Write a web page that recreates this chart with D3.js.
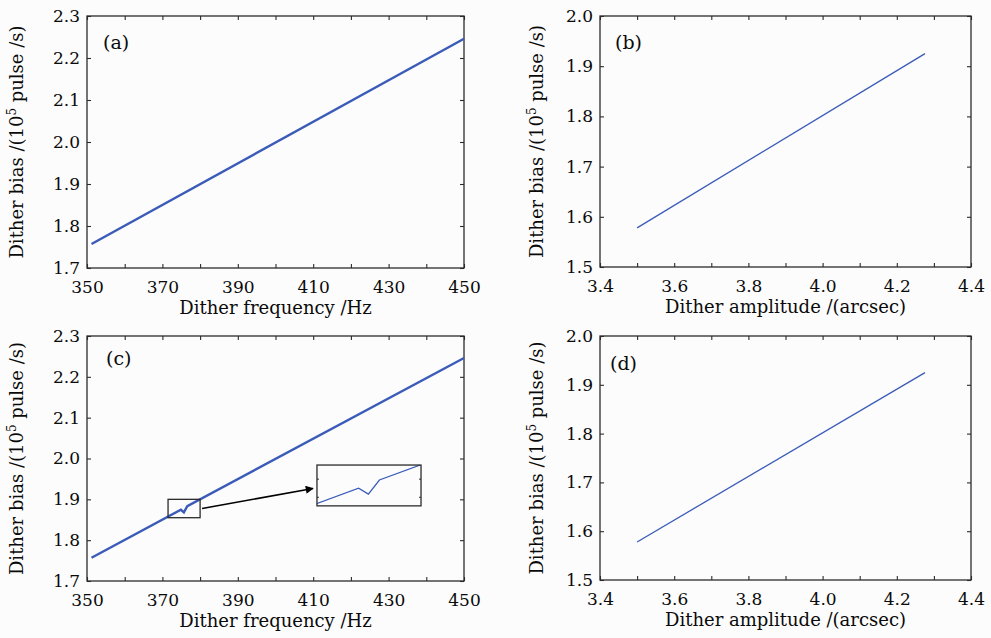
<!DOCTYPE html>
<html>
<head>
<meta charset="utf-8">
<script src="https://cdn.jsdelivr.net/npm/d3@7"></script>
<style>
  body { margin: 0; background: #fcfcfc; }
  svg { display: block; }
  text { font-family: "DejaVu Serif", serif; fill: #0a0a0a; }
</style>
</head>
<body>
<div id="chart"></div>
<script>
// data
const freqA = [351.2, 450];
const biasA = [1.757, 2.246];

const ampB = [3.5, 4.276];
const biasB = [1.578, 1.925];

const freqC = [351.2, 374.9, 375.7, 376.6, 450];
const biasC = [1.757, 1.8745, 1.868, 1.8835, 2.246];

const ampD = [3.5, 4.276];
const biasD = [1.578, 1.925];

// ticks
const freqTicks = [350, 360, 370, 380, 390, 400, 410, 420, 430, 440, 450];
const freqLabels = [350, 370, 390, 410, 430, 450];
const ampTicks = [3.4, 3.5, 3.6, 3.7, 3.8, 3.9, 4.0, 4.1, 4.2, 4.3, 4.4];
const ampLabels = [3.4, 3.6, 3.8, 4.0, 4.2, 4.4];
const biasTicksFreq = [1.7, 1.8, 1.9, 2.0, 2.1, 2.2, 2.3];
const biasTicksAmp = [1.5, 1.6, 1.7, 1.8, 1.9, 2.0];

// zoom box and inset in (c), in data units of panel (c)
const zoomFreq = [371.5, 380];
const zoomBias = [1.855, 1.9];
const insetFreq = [411, 438.6];
const insetBias = [1.884, 1.984];
const insetTicks = [1.865, 1.885];

const W = 991, H = 638;
const lineColor = '#3a5bb8';
const axisColor = '#2b2b2b';

const svg = d3.select('#chart').append('svg')
    .attr('width', W)
    .attr('height', H);

svg.append('rect').attr('width', W).attr('height', H).attr('fill', '#fcfcfc');

svg.append('defs').append('marker')
    .attr('id', 'arrow')
    .attr('viewBox', '0 0 10 10')
    .attr('refX', 9).attr('refY', 5)
    .attr('markerWidth', 12).attr('markerHeight', 8)
    .attr('markerUnits', 'userSpaceOnUse')
    .attr('orient', 'auto')
    .append('path')
    .attr('d', 'M0,0 L10,5 L0,10 z')
    .attr('fill', '#000');

function fmt1(d) { return d3.format('.1f')(d); }

function drawPanel(p) {
    const x = d3.scaleLinear().domain(p.xDomain).range([p.left, p.right]);
    const y = d3.scaleLinear().domain(p.yDomain).range([p.bottom, p.top]);
    const g = svg.append('g');

    // bottom axis
    const gb = g.append('g')
        .attr('transform', `translate(0,${p.bottom})`)
        .call(d3.axisBottom(x).tickValues(p.xTicks).tickSize(-4).tickPadding(13)
            .tickFormat(d => p.xLabels.indexOf(d) >= 0 ? p.xFmt(d) : ''));
    // top axis
    const gt = g.append('g')
        .attr('transform', `translate(0,${p.top})`)
        .call(d3.axisTop(x).tickValues(p.xTicks).tickSize(-4).tickFormat(''));
    // left axis
    const gl = g.append('g')
        .attr('transform', `translate(${p.left},0)`)
        .call(d3.axisLeft(y).tickValues(p.yTicks).tickSize(-4).tickPadding(7).tickFormat(fmt1));
    // right axis
    const gr = g.append('g')
        .attr('transform', `translate(${p.right},0)`)
        .call(d3.axisRight(y).tickValues(p.yTicks).tickSize(-4).tickFormat(''));

    [gb, gt, gl, gr].forEach(a => {
        a.select('.domain').remove();
        a.selectAll('line').attr('stroke', axisColor).attr('stroke-width', 1.1);
        a.selectAll('text')
            .attr('font-family', '"DejaVu Serif", serif')
            .attr('font-size', 17)
            .attr('fill', '#0a0a0a');
    });

    // frame
    g.append('rect')
        .attr('x', p.left).attr('y', p.top)
        .attr('width', p.right - p.left).attr('height', p.bottom - p.top)
        .attr('fill', 'none')
        .attr('stroke', axisColor)
        .attr('stroke-width', 1.3);

    // data line
    const line = d3.line().x(i => x(p.xs[i])).y(i => y(p.ys[i]));
    g.append('path')
        .attr('d', line(d3.range(p.xs.length)))
        .attr('fill', 'none')
        .attr('stroke', lineColor)
        .attr('stroke-width', p.lw);

    // panel letter
    g.append('text')
        .attr('x', p.left + p.tagDx).attr('y', p.top + p.tagDy)
        .attr('font-size', 19)
        .text(p.tag);

    // x title
    g.append('text')
        .attr('x', (p.left + p.right) / 2)
        .attr('y', p.bottom + 46)
        .attr('text-anchor', 'middle')
        .attr('font-size', 18)
        .text(p.xTitle);

    // y title
    const yt = g.append('text')
        .attr('transform', `translate(${p.left - p.yTitleOff},${(p.top + p.bottom) / 2}) rotate(-90)`)
        .attr('text-anchor', 'middle')
        .attr('font-size', 18);
    yt.append('tspan').text('Dither bias /(10');
    yt.append('tspan').attr('dy', -7).attr('font-size', 12).text('5');
    yt.append('tspan').attr('dy', 7).text(' pulse /s)');

    return { x, y, g };
}

const freqFmt = d3.format('d');

drawPanel({
    left: 87, top: 16, right: 464, bottom: 268,
    xDomain: [350, 450], yDomain: [1.7, 2.3],
    xTicks: freqTicks, xLabels: freqLabels, xFmt: freqFmt, yTicks: biasTicksFreq,
    xs: freqA, ys: biasA, lw: 2.4,
    tag: '(a)', tagDx: 16, tagDy: 33, yTitleOff: 64,
    xTitle: 'Dither frequency /Hz'
});

drawPanel({
    left: 600, top: 16, right: 971, bottom: 267,
    xDomain: [3.4, 4.4], yDomain: [1.5, 2.0],
    xTicks: ampTicks, xLabels: ampLabels, xFmt: fmt1, yTicks: biasTicksAmp,
    xs: ampB, ys: biasB, lw: 1.3,
    tag: '(b)', tagDx: 15, tagDy: 33, yTitleOff: 57,
    xTitle: 'Dither amplitude /(arcsec)'
});

const pc = drawPanel({
    left: 87, top: 336, right: 464, bottom: 581,
    xDomain: [350, 450], yDomain: [1.7, 2.3],
    xTicks: freqTicks, xLabels: freqLabels, xFmt: freqFmt, yTicks: biasTicksFreq,
    xs: freqC, ys: biasC, lw: 2.4,
    tag: '(c)', tagDx: 19, tagDy: 29, yTitleOff: 64,
    xTitle: 'Dither frequency /Hz'
});

drawPanel({
    left: 600, top: 336, right: 971, bottom: 580,
    xDomain: [3.4, 4.4], yDomain: [1.5, 2.0],
    xTicks: ampTicks, xLabels: ampLabels, xFmt: fmt1, yTicks: biasTicksAmp,
    xs: ampD, ys: biasD, lw: 1.3,
    tag: '(d)', tagDx: 10, tagDy: 34, yTitleOff: 57,
    xTitle: 'Dither amplitude /(arcsec)'
});

// zoom box in (c)
const bx0 = pc.x(zoomFreq[0]), bx1 = pc.x(zoomFreq[1]);
const by0 = pc.y(zoomBias[1]), by1 = pc.y(zoomBias[0]);
pc.g.append('rect')
    .attr('x', bx0).attr('y', by0)
    .attr('width', bx1 - bx0).attr('height', by1 - by0)
    .attr('fill', 'none').attr('stroke', axisColor).attr('stroke-width', 1.3);

// inset
const ix0 = pc.x(insetFreq[0]), ix1 = pc.x(insetFreq[1]);
const iy0 = pc.y(insetBias[1]), iy1 = pc.y(insetBias[0]);
const xi = d3.scaleLinear().domain(zoomFreq).range([ix0, ix1]);
const yi = d3.scaleLinear().domain(zoomBias).range([iy1, iy0]);

pc.g.append('rect')
    .attr('x', ix0).attr('y', iy0)
    .attr('width', ix1 - ix0).attr('height', iy1 - iy0)
    .attr('fill', '#fcfcfc');

pc.g.append('clipPath').attr('id', 'insetClip')
    .append('rect')
    .attr('x', ix0).attr('y', iy0)
    .attr('width', ix1 - ix0).attr('height', iy1 - iy0);

const insetLine = d3.line().x(i => xi(freqC[i])).y(i => yi(biasC[i]));
pc.g.append('path')
    .attr('clip-path', 'url(#insetClip)')
    .attr('d', insetLine(d3.range(freqC.length)))
    .attr('fill', 'none')
    .attr('stroke', lineColor)
    .attr('stroke-width', 1.3);

[ix0, ix1].forEach((xx, k) => {
    const a = k === 0 ? d3.axisLeft(yi) : d3.axisRight(yi);
    const ga = pc.g.append('g')
        .attr('transform', `translate(${xx},0)`)
        .call(a.tickValues(insetTicks).tickSize(-2).tickFormat(''));
    ga.select('.domain').remove();
    ga.selectAll('line').attr('stroke', axisColor);
});

pc.g.append('rect')
    .attr('x', ix0).attr('y', iy0)
    .attr('width', ix1 - ix0).attr('height', iy1 - iy0)
    .attr('fill', 'none').attr('stroke', axisColor).attr('stroke-width', 1.3);

// arrow from zoom box to inset
pc.g.append('line')
    .attr('x1', bx1 + 2).attr('y1', (by0 + by1) / 2)
    .attr('x2', ix0 - 4).attr('y2', (iy0 + iy1) / 2 + 3)
    .attr('stroke', '#000')
    .attr('stroke-width', 1.6)
    .attr('marker-end', 'url(#arrow)');
</script>
</body>
</html>
